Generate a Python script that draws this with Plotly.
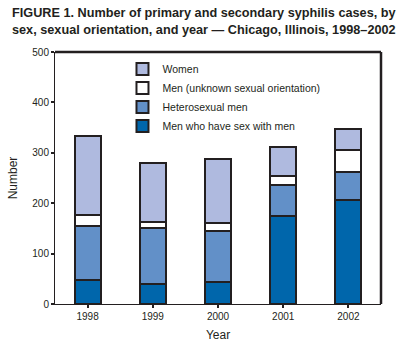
import plotly.graph_objects as go

years = ["1998", "1999", "2000", "2001", "2002"]
msm = [47, 40, 43, 175, 207]
hetero = [108, 111, 102, 62, 54]
unknown = [22, 12, 15, 16, 45]
women = [156, 116, 128, 59, 42]

title_lines = [
    "FIGURE 1. Number of primary and secondary syphilis cases, by",
    "sex, sexual orientation, and year — Chicago, Illinois, 1998–2002",
]

series = [
    ("Men who have sex with men", msm, "#0066ab"),
    ("Heterosexual men", hetero, "#6290c8"),
    ("Men (unknown sexual orientation)", unknown, "#ffffff"),
    ("Women", women, "#afbadf"),
]

edge = "#231f20"
fig = go.Figure()
for name, vals, col in series:
    fig.add_trace(go.Bar(
        x=years, y=vals, name=name,
        marker=dict(color=col, line=dict(color=edge, width=2)),
    ))

font_main = "Liberation Sans, Arial, sans-serif"
font_title = "Liberation Sans, Arial, sans-serif"

annotations = []
for i, line in enumerate(title_lines):
    annotations.append(dict(
        text="<b>" + line + "</b>", xref="paper", yref="paper",
        x=-45 / 328, xanchor="left", y=(304 - 13 - 17 * i) / 252, yanchor="middle",
        showarrow=False, font=dict(family=font_title, size=12.7, color="#231f20"),
    ))

fig.update_layout(
    width=401, height=354,
    barmode="stack", bargap=0.6,
    paper_bgcolor="white", plot_bgcolor="white",
    margin=dict(l=53, r=20, t=52, b=50),
    font=dict(family=font_main, size=10, color="#231f20"),
    legend=dict(
        x=0.207, xanchor="left", y=0.99, yanchor="top",
        traceorder="reversed", bgcolor="rgba(0,0,0,0)",
        font=dict(family=font_main, size=10.5, color="#231f20"),
    ),
    showlegend=True,
    annotations=annotations,
    xaxis=dict(
        showline=True, linecolor=edge, linewidth=1,
        ticks="outside", ticklen=3, tickcolor=edge, tickwidth=1.5,
        title=dict(text="Year", font=dict(size=12), standoff=9),
        tickfont=dict(size=10),
    ),
    yaxis=dict(
        range=[0, 500], tickvals=[0, 100, 200, 300, 400, 500],
        showline=True, linecolor=edge, linewidth=1,
        showgrid=False, zeroline=False,
        ticks="outside", ticklen=3, tickcolor=edge, tickwidth=1.5,
        title=dict(text="Number", font=dict(size=12), standoff=12),
        tickfont=dict(size=10),
    ),
    shapes=[
        dict(type="line", xref="paper", yref="paper", x0=0, x1=1, y0=1, y1=1,
             line=dict(color=edge, width=2.5)),
        dict(type="line", xref="paper", yref="paper", x0=1, x1=1, y0=0, y1=1,
             line=dict(color=edge, width=2.5)),
    ],
)

fig.write_html("out.html")
